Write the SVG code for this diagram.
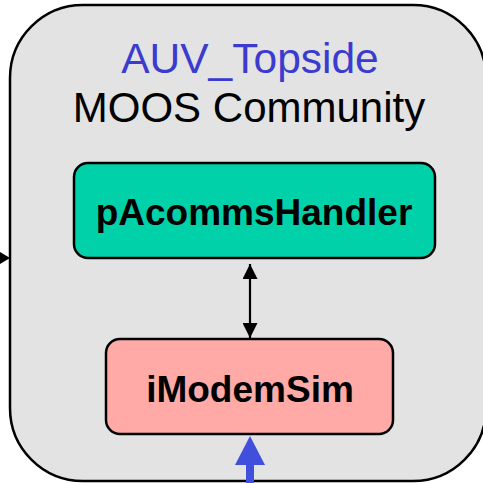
<svg xmlns="http://www.w3.org/2000/svg" width="483" height="483" viewBox="0 0 483 483">
<style>
.lbl{font-family:"Liberation Sans",Arial,sans-serif;text-anchor:middle}
.node{stroke:#000;stroke-width:2.5}
</style>
<defs>
<marker id="ah" markerWidth="15" markerHeight="15" refX="15" refY="7.5" orient="auto-start-reverse" markerUnits="userSpaceOnUse" viewBox="0 0 15 15">
<path d="M0,0 L15,7.5 L0,15 z" fill="#000"/>
</marker>
</defs>
<rect width="483" height="483" fill="#fff"/>
<g id="community">
<rect x="10" y="5" width="476" height="476" rx="73" fill="#e3e3e3" stroke="#000" stroke-width="2.5"/>
<text class="lbl" x="250" y="73" font-size="42.5" fill="#3b3bcf">AUV_Topside</text>
<text class="lbl" x="249" y="122" font-size="42" fill="#000">MOOS Community</text>
</g>
<g id="pAcommsHandler">
<rect class="node" x="74" y="163" width="361" height="95" rx="14" fill="#00d1a9"/>
<text class="lbl" x="254" y="225" font-size="37" font-weight="bold">pAcommsHandler</text>
</g>
<g id="iModemSim">
<rect class="node" x="106" y="339" width="287" height="95" rx="14" fill="#ffaaa6"/>
<text class="lbl" x="250" y="402" font-size="37" font-weight="bold">iModemSim</text>
</g>
<g id="connectors">
<line x1="250" y1="264" x2="250" y2="338" stroke="#000" stroke-width="2.2" marker-start="url(#ah)" marker-end="url(#ah)"/>
<path d="M0,252 L10,258 L0,264 z" fill="#000"/>
<rect x="246" y="464" width="8" height="19" fill="#4050dd"/>
<path d="M235,465 L250,436 L265,465 z" fill="#4050dd"/>
</g>
</svg>
